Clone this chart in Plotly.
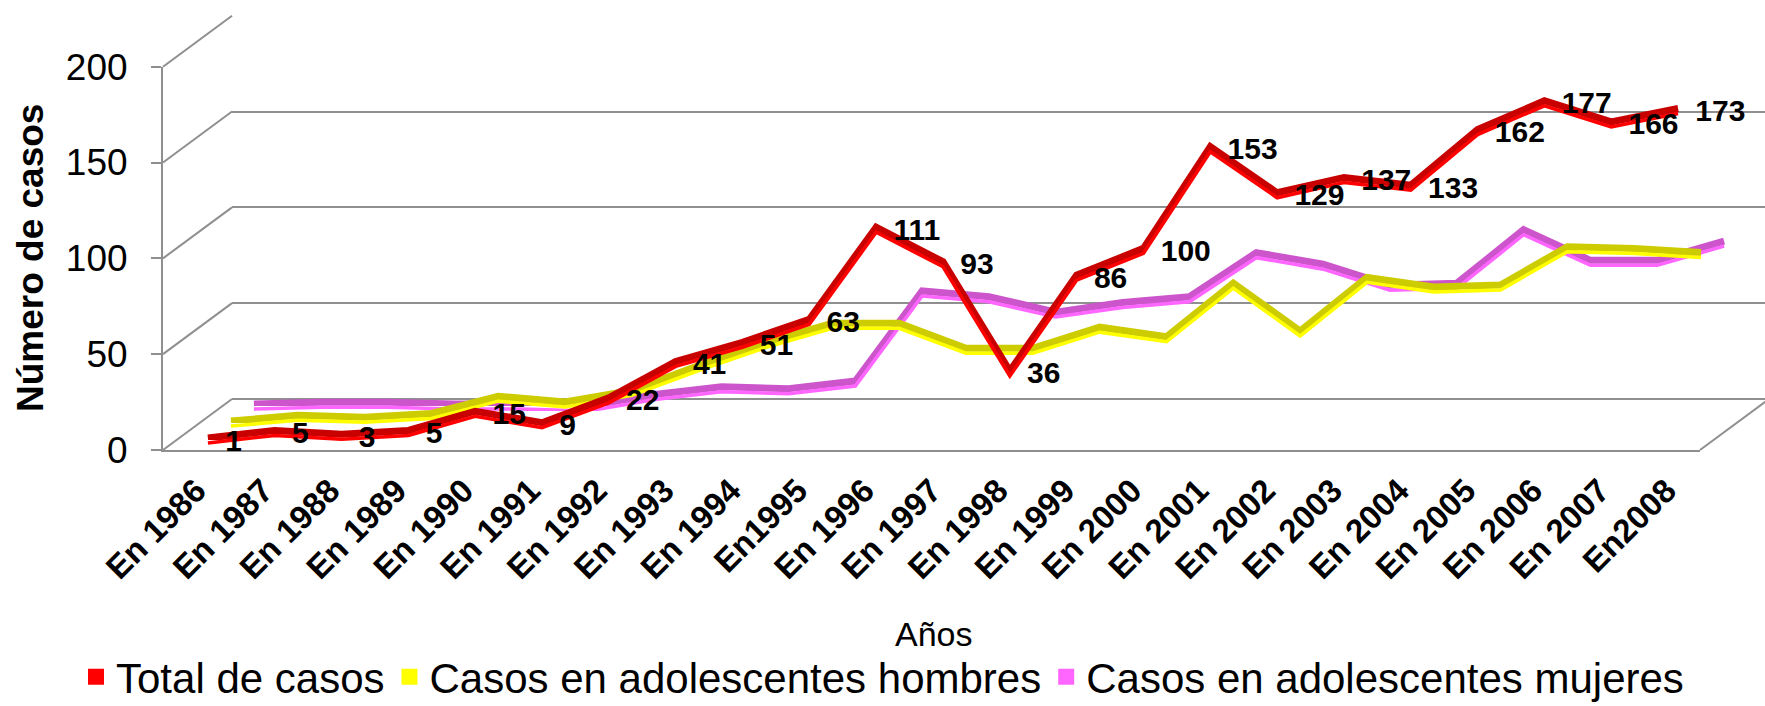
import plotly.graph_objects as go

# ---------------- data ----------------
years = ["En 1986", "En 1987", "En 1988", "En 1989", "En 1990", "En 1991", "En 1992",
         "En 1993", "En 1994", "En1995", "En 1996", "En 1997", "En 1998", "En 1999",
         "En 2000", "En 2001", "En 2002", "En 2003", "En 2004", "En 2005", "En 2006",
         "En 2007", "En2008"]
total_casos = [1, 5, 3, 5, 15, 9, 22, 41, 51, 63, 111, 93, 36, 86, 100, 153, 129, 137,
               133, 162, 177, 166, 173]
hombres = [1, 4, 3, 5, 14, 11, 17, 30, 42, 52, 52, 39, 39, 50, 45, 73, 48, 76, 71, 72,
           92, 91, 89]
mujeres = [1, 2, 2, 1, 1, 0, 6, 10, 9, 13, 60, 57, 49, 54, 57, 80, 74, 63, 64, 92, 76,
           76, 86]
y_ticks = [0, 50, 100, 150, 200]
series_names = ["Total de casos", "Casos en adolescentes hombres",
                "Casos en adolescentes mujeres"]

# ---------------- layout geometry (pixels) ----------------
W, H = 1765, 706
FX0, FX1 = 163, 1700        # front plane x extent
FY0, FY200 = 450, 66.7      # front plane y of 0 and 200
DX, DY = 69, 51             # oblique depth offset of the back wall
FONT = "Arial, Liberation Sans, sans-serif"
GRID = "#8f8f8f"


def xdom(sx):
    return [max((FX0 + sx) / W, 0), min((FX1 + sx) / W, 1)]


def ydom(sy):
    return [1 - (FY0 - sy) / H, 1 - (FY200 - sy) / H]


fig = go.Figure()
layout = {}

# subplot 1: front axes (y axis with labels, x category labels, floor front edge)
fig.add_trace(go.Scatter(x=years, y=total_casos, mode="none", showlegend=False,
                         hoverinfo="skip", xaxis="x", yaxis="y"))
layout["xaxis"] = dict(domain=xdom(0), anchor="y", type="category", range=[-0.5, 22.5],
                       showline=True, linecolor=GRID, linewidth=2, showgrid=False,
                       zeroline=False, ticks="", tickangle=-45, automargin=False,
                       ticklabelstandoff=6,
                       tickfont=dict(family=FONT, size=33, color="black", weight="bold"))
layout["yaxis"] = dict(domain=ydom(0), anchor="x", range=[0, 200], tickvals=y_ticks,
                       showline=True, linecolor=GRID, linewidth=2, showgrid=False,
                       zeroline=False, ticks="outside", ticklen=10, tickcolor=GRID,
                       tickwidth=2, ticklabelstandoff=16, automargin=False,
                       tickfont=dict(family=FONT, size=37, color="black"))

# subplot 2: back wall gridlines
fig.add_trace(go.Scatter(x=[0.5] * len(y_ticks), y=y_ticks, mode="none", showlegend=False,
                         hoverinfo="skip", xaxis="x2", yaxis="y2"))
layout["xaxis2"] = dict(domain=[(FX0 + DX) / W, 1], anchor="y2", range=[0, 1],
                        visible=False)
layout["yaxis2"] = dict(domain=ydom(DY), anchor="x2", range=[0, 200], tickvals=y_ticks,
                        showgrid=True, gridcolor=GRID, gridwidth=2, zeroline=True,
                        zerolinecolor=GRID, zerolinewidth=2, showticklabels=False,
                        ticks="", showline=False, automargin=False)

# series ribbons (back to front): dark top face + bright front face
series = [
    (series_names[2], mujeres, 5 / 6, "#CC55CC", "#FF66FF", False),
    (series_names[1], hombres, 1 / 2, "#CCCC00", "#FFFF00", False),
    (series_names[0], total_casos, 1 / 6, "#C80000", "#FF0000", True),
]
k = 3
for name, vals, d, dark, bright, labels in series:
    for part, color, width, sy in (("top", dark, 7, 1.5), ("front", bright, 3.5, -3.5)):
        ax = str(k)
        is_label = labels and part == "front"
        fig.add_trace(go.Scatter(
            x=years, y=vals, xaxis="x" + ax, yaxis="y" + ax, name=name,
            mode="lines+markers+text" if is_label else "lines",
            line=dict(color=color, width=width),
            marker=dict(size=26, color="rgba(0,0,0,0)"),
            text=[str(v) for v in vals] if is_label else None,
            textposition="middle right",
            textfont=dict(family=FONT, size=30, color="black", weight="bold"),
            cliponaxis=False, showlegend=False, hoverinfo="skip"))
        layout["xaxis" + ax] = dict(domain=xdom(DX * d), anchor="y" + ax, type="category",
                                    range=[-0.5, 22.5], visible=False)
        layout["yaxis" + ax] = dict(domain=ydom(DY * d + sy), anchor="x" + ax,
                                    range=[0, 200], visible=False)
        k += 1

# legend entries
for name, color in zip(series_names, ["#FF0000", "#FFFF00", "#FF66FF"]):
    fig.add_trace(go.Scatter(x=[None], y=[None], mode="markers", name=name,
                             marker=dict(symbol="square", size=22, color=color),
                             xaxis="x", yaxis="y", showlegend=True))

# decorative wall / floor edges
shapes = []
for v in y_ticks:
    yf = FY0 - v * (FY0 - FY200) / 200
    shapes.append(dict(type="line", xref="paper", yref="paper", layer="below",
                       x0=FX0 / W, y0=1 - yf / H, x1=(FX0 + DX) / W, y1=1 - (yf - DY) / H,
                       line=dict(color=GRID, width=2)))
shapes.append(dict(type="line", xref="paper", yref="paper", layer="below",
                   x0=FX1 / W, y0=1 - FY0 / H, x1=(FX1 + DX) / W, y1=1 - (FY0 - DY) / H,
                   line=dict(color=GRID, width=2)))

annotations = [
    dict(text="<b>Número de casos</b>", xref="paper", yref="paper", x=30 / W,
         y=1 - 258 / H, textangle=-90, showarrow=False, xanchor="center",
         yanchor="middle", font=dict(family=FONT, size=37, color="black")),
    dict(text="Años", xref="paper", yref="paper", x=934 / W, y=1 - 634 / H,
         showarrow=False, xanchor="center", yanchor="middle",
         font=dict(family=FONT, size=34, color="black")),
]

fig.update_layout(
    width=W, height=H, autosize=False, template="none",
    margin=dict(l=0, r=0, t=0, b=0, pad=0, autoexpand=False),
    paper_bgcolor="white", plot_bgcolor="rgba(0,0,0,0)",
    font=dict(family=FONT, color="black"),
    showlegend=True, hovermode=False,
    legend=dict(orientation="h", x=0.5, xanchor="center", y=-0.007,
                yanchor="bottom", font=dict(family=FONT, size=42, color="black"),
                itemwidth=30, traceorder="normal", bgcolor="rgba(0,0,0,0)"),
    shapes=shapes, annotations=annotations,
    **layout,
)

fig.write_html("out.html", config={"displayModeBar": False},
               post_script="document.body.style.margin='0px';")
